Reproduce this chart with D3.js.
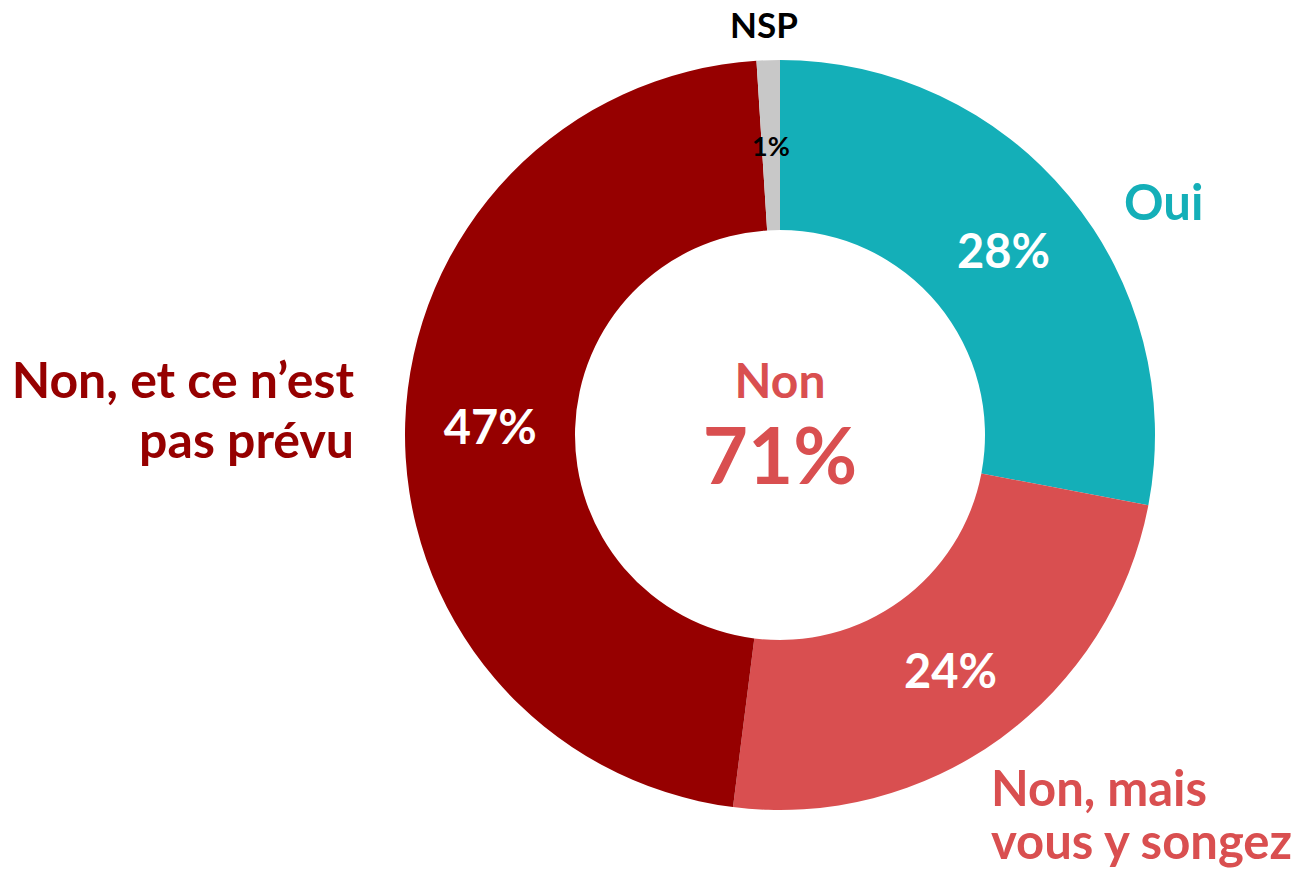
<!DOCTYPE html>
<html>
<head>
<meta charset="utf-8">
<script src="https://cdn.jsdelivr.net/npm/d3@7"></script>
<style>
  html, body { margin: 0; padding: 0; background: #ffffff; }
  svg { display: block; }
  text { font-family: Lato, "Open Sans", sans-serif; font-weight: 700; }
</style>
</head>
<body>
<svg id="chart" width="1300" height="872"></svg>
<script>
// Survey answers, in clockwise order starting at 12 o'clock
const categories = ["Oui", "Non, mais vous y songez", "Non, et ce n\u2019est pas prévu", "NSP"];
const values = [28, 24, 47, 1];
const colors = ["#14AFB8", "#D94F50", "#960000", "#C8C8C8"];
const valueLabelColors = ["#ffffff", "#ffffff", "#ffffff", "#000000"];

// Centre summary
const totalLabel = "Non";
const totalValue = 71;

const width = 1300, height = 872;
const cx = 780, cy = 435;
const outerR = 375, innerR = 205;

const svg = d3.select("#chart");
const g = svg.append("g").attr("transform", `translate(${cx},${cy})`);

const pie = d3.pie().sort(null).value(d => d.value);
const arc = d3.arc().innerRadius(innerR).outerRadius(outerR);

const data = categories.map((c, i) => ({ category: c, value: values[i], i }));
const arcs = pie(data);

g.selectAll("path.slice")
  .data(arcs)
  .join("path")
  .attr("class", "slice")
  .attr("d", arc)
  .attr("fill", d => colors[d.data.i]);

// Percent labels at each slice centroid
g.selectAll("text.pct")
  .data(arcs)
  .join("text")
  .attr("class", "pct")
  .attr("x", d => arc.centroid(d)[0])
  .attr("y", d => arc.centroid(d)[1])
  .attr("text-anchor", "middle")
  .attr("dominant-baseline", "central")
  .attr("fill", d => valueLabelColors[d.data.i])
  .attr("font-size", d => d.data.value < 5 ? 27 : 47)
  .text(d => d.data.value + "%");

// Category labels placed outside the ring
const catLabels = [
  { lines: ["Oui"], x: 1124, y: 220, anchor: "start", size: 49, color: colors[0], lh: 0 },
  { lines: ["Non, mais", "vous y songez"], x: 991, y: 806, anchor: "start", size: 49, color: colors[1], lh: 53 },
  { lines: ["Non, et ce n\u2019est", "pas prévu"], x: 354, y: 398, anchor: "end", size: 50, color: colors[2], lh: 60 },
  { lines: ["NSP"], x: 764, y: 38, anchor: "middle", size: 35, color: "#000000", lh: 0 }
];

catLabels.forEach(l => {
  const t = svg.append("text")
    .attr("x", l.x).attr("y", l.y)
    .attr("text-anchor", l.anchor)
    .attr("font-size", l.size)
    .attr("fill", l.color);
  l.lines.forEach((line, k) => {
    t.append("tspan").attr("x", l.x).attr("y", l.y + k * l.lh).text(line);
  });
});

// Centre summary text
g.append("text")
  .attr("x", 0).attr("y", -37)
  .attr("text-anchor", "middle")
  .attr("font-size", 48)
  .attr("fill", "#D94F50")
  .text(totalLabel);

g.append("text")
  .attr("x", 0).attr("y", 49)
  .attr("text-anchor", "middle")
  .attr("font-size", 78)
  .attr("fill", "#D94F50")
  .text(totalValue + "%");
</script>
</body>
</html>
